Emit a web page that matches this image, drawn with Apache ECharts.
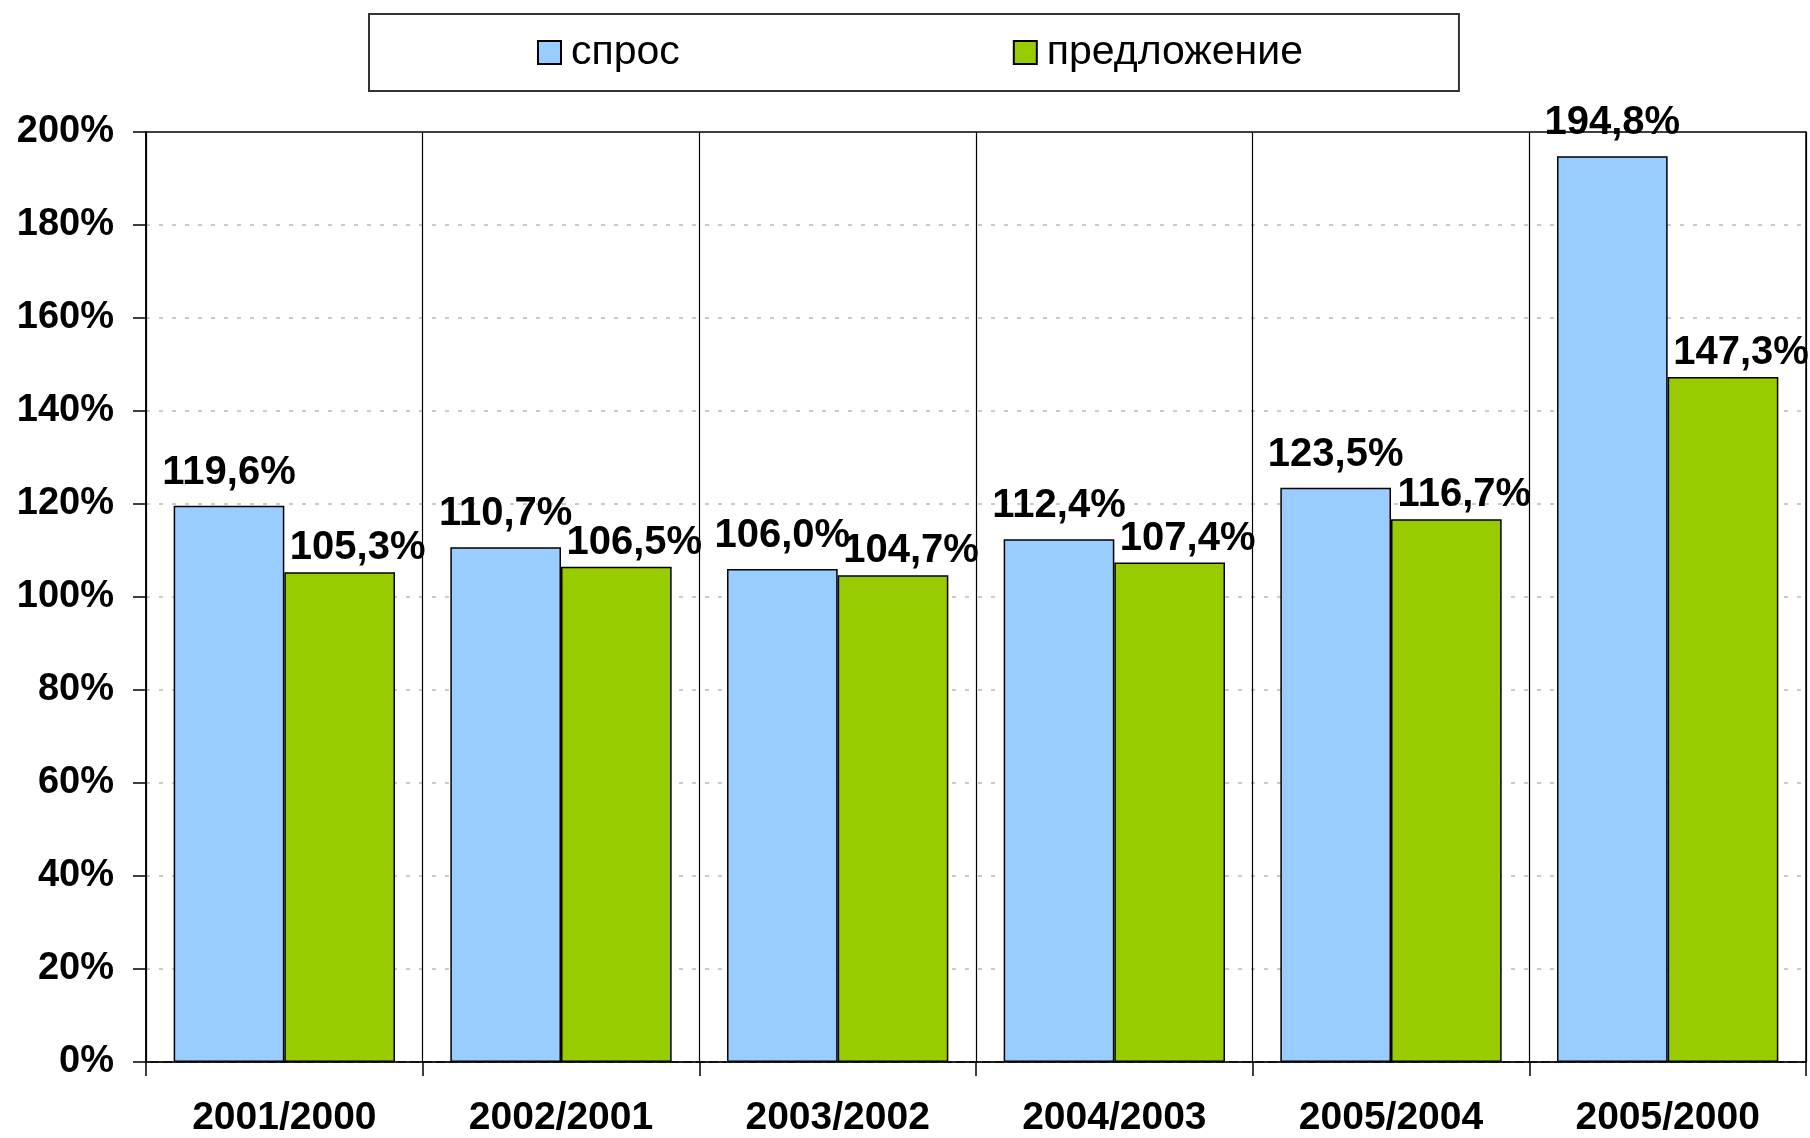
<!DOCTYPE html>
<html>
<head>
<meta charset="utf-8">
<script src="https://cdn.jsdelivr.net/npm/echarts@6/dist/echarts.min.js"></script>
<style>
  html, body { margin: 0; padding: 0; background: #fff; }
  #chart { width: 1810px; height: 1138px; }
</style>
</head>
<body>
<div id="chart"></div>
<script>
// периоды и темпы роста, %
const categories = ['2001/2000', '2002/2001', '2003/2002', '2004/2003', '2005/2004', '2005/2000'];
const demand = [119.6, 110.7, 106.0, 112.4, 123.5, 194.8];   // спрос
const supply = [105.3, 106.5, 104.7, 107.4, 116.7, 147.3];   // предложение
const yTicks = [0, 200, 20]; // min, max, interval

const FONT = '"Liberation Sans", Arial, sans-serif';

const fmt = v => v.toFixed(1).replace('.', ',') + '%';

const chart = echarts.init(document.getElementById('chart'));

chart.setOption({
  animation: false,
  backgroundColor: '#fff',
  legend: {
    left: 369,
    top: 14,
    padding: [18, 156, 18, 168],
    itemGap: 333,
    itemWidth: 23,
    itemHeight: 23,
    borderColor: '#333',
    borderWidth: 2,
    icon: 'rect',
    textStyle: { fontFamily: FONT, fontSize: 41, color: '#000', padding: [0, 0, 0, 5] },
    data: ['спрос', 'предложение']
  },
  grid: {
    left: 146,
    right: 4,
    top: 132,
    bottom: 73,
    show: true,
    borderColor: '#000',
    borderWidth: 1.5,
    backgroundColor: 'transparent'
  },
  xAxis: {
    type: 'category',
    data: categories,
    axisLine: { lineStyle: { color: '#000', width: 1.5 } },
    axisTick: { show: true, length: 14, interval: 0, lineStyle: { color: '#000', width: 1.5 } },
    splitLine: { show: true, interval: 0, lineStyle: { color: '#000', width: 1.2 } },
    axisLabel: {
      interval: 0,
      margin: 37,
      fontFamily: FONT,
      fontSize: 39,
      fontWeight: 'bold',
      color: '#000'
    }
  },
  yAxis: {
    type: 'value',
    min: yTicks[0],
    max: yTicks[1],
    interval: yTicks[2],
    axisLine: { show: true, lineStyle: { color: '#000', width: 1.5 } },
    axisTick: { show: true, length: 13, lineStyle: { color: '#000', width: 1.5 } },
    splitLine: { show: true, showMaxLine: false, lineStyle: { color: '#bbb', type: [4, 9], width: 1.5 } },
    axisLabel: {
      margin: 32,
      fontFamily: FONT,
      fontSize: 38,
      fontWeight: 'bold',
      color: '#000',
      formatter: '{value}%'
    }
  },
  series: [
    {
      name: 'спрос',
      type: 'bar',
      data: demand,
      barGap: '0%',
      barCategoryGap: '20%',
      itemStyle: { color: '#99ccff', borderColor: '#000', borderWidth: 1.5 },
      label: {
        show: true,
        position: 'top',
        distance: 13,
        fontFamily: FONT,
        fontSize: 40,
        fontWeight: 'bold',
        color: '#000',
        formatter: p => fmt(p.value)
      }
    },
    {
      name: 'предложение',
      type: 'bar',
      data: supply,
      barGap: '0%',
      barCategoryGap: '20%',
      itemStyle: { color: '#99cc00', borderColor: '#000', borderWidth: 1.5 },
      label: {
        show: true,
        position: 'top',
        distance: 4,
        offset: [18, 0],
        fontFamily: FONT,
        fontSize: 40,
        fontWeight: 'bold',
        color: '#000',
        formatter: p => fmt(p.value)
      }
    }
  ]
});
</script>
</body>
</html>
